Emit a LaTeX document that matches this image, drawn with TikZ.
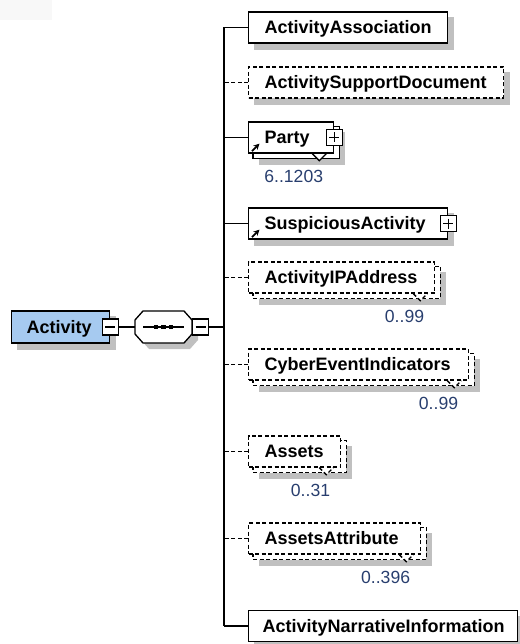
\documentclass[tikz,border=0pt]{standalone}
\usepackage{fontspec}
\setmainfont{Liberation Sans}
\usetikzlibrary{calc,arrows.meta}
\pgfdeclarelayer{shadowl}
\pgfdeclarelayer{backl}
\pgfsetlayers{shadowl,backl,main}
\definecolor{shadowgray}{RGB}{192,192,192}
\definecolor{rootblue}{RGB}{166,202,240}
\definecolor{occblue}{RGB}{40,62,110}
\definecolor{faint}{RGB}{248,248,248}
\newcommand\elemfont{\fontsize{18pt}{21pt}\selectfont\bfseries}
\newcommand\occfont{\fontsize{17.6pt}{21pt}\selectfont}
\newcommand\dropshadow[2]{%
  \begin{pgfonlayer}{shadowl}
  \fill[shadowgray] ($(#1.north west)+(#2,#2)$) rectangle ($(#1.south east)+(#2,#2)$);
  \end{pgfonlayer}}
\newcommand\stackcopy[2]{%
  \begin{pgfonlayer}{backl}
  \draw[boxline,#2,fill=white] ($(#1.north west)+(5,5)$) rectangle ($(#1.south east)+(5,5)$);
  \end{pgfonlayer}
  \dropshadow{#1}{11}
  \fill[white] ($(#1.south east)+(-22,0.8)$) -- ($(#1.south east)+(-15,7)$) -- ($(#1.south east)+(-8,0.8)$) -- cycle;
  \draw[boxline,#2] ($(#1.south east)+(-22,0)$) -- ($(#1.south east)+(-15,7)$) -- ($(#1.south east)+(-8,0)$);}
\newcommand\minussign[1]{\draw[line width=1.2pt] ($(#1.center)+(-5,0)$) -- ($(#1.center)+(5,0)$);}
\newcommand\plussign[1]{\minussign{#1}\draw[line width=1.2pt] ($(#1.center)+(0,-5)$) -- ($(#1.center)+(0,5)$);}
\newcommand\refarrow[1]{\draw[icon] ($(#1.south west)+(4,-2.5)$) -- ($(#1.south west)+(11.5,-10)$);}
\begin{document}
\begin{tikzpicture}[x=1pt,y=-1pt,
  boxline/.style={line width=1.3pt},
  conn/.style={line width=1.3pt},
  dashline/.style={dash pattern=on 4pt off 2.5pt},
  elem/.style={draw, fill=white, boxline, anchor=west, minimum height=31pt, inner xsep=12pt, inner ysep=0pt, text height=12.5pt, text depth=0pt, align=left, font=\elemfont},
  root/.style={elem, fill=rootblue, minimum height=32pt},
  pm/.style={draw, fill=white, line width=1.2pt, minimum size=16pt, inner sep=0pt},
  occ/.style={anchor=east, inner sep=0pt, text height=12.5pt, text depth=0pt, font=\occfont, text=occblue},
  icon/.style={line width=1.8pt, -{Stealth[length=6pt,width=6pt]}}
]
\useasboundingbox (0,0) rectangle (519,644);
\fill[faint] (0,0) rectangle (52,20);

% root element
\node[root, text width=74pt] (act) at (11,327) {\hspace{3pt}Activity};
\dropshadow{act}{6}
\node[pm] (actminus) at (act.east) {};
\minussign{actminus}

% sequence compositor
\node[inner sep=0pt, minimum width=57pt, minimum height=32pt] (seq) at (163.5,327) {};
\begin{pgfonlayer}{shadowl}
\fill[shadowgray, shift={(6,6)}] (135,320) -- (143,311) -- (184,311) -- (192,320) -- (192,334) -- (184,343) -- (143,343) -- (135,334) -- cycle;
\end{pgfonlayer}
\draw[boxline, fill=white] (135,320) -- (143,311) -- (184,311) -- (192,320) -- (192,334) -- (184,343) -- (143,343) -- (135,334) -- cycle;
\draw[line width=1.2pt] ($(seq.center)+(-20.5,0)$) -- ($(seq.center)+(20.5,0)$);
\foreach \dx in {-7.5,0,7.5}{\fill ($(seq.center)+(\dx,0)+(-2.4,-2.4)$) rectangle ($(seq.center)+(\dx,0)+(2.4,2.4)$);}
\node[pm] (seqminus) at (200.5,327) {};
\minussign{seqminus}

\draw[conn] (actminus.east) -- (seq.west);

% children
\node[elem, text width=175pt] (aa) at (248,27.5) {\hspace{4pt}ActivityAssociation};
\dropshadow{aa}{6}

\node[elem, dashline, text width=231pt] (asd) at (248,82.5) {\hspace{4pt}ActivitySupportDocument};
\dropshadow{asd}{6}

\node[elem, text width=61pt] (party) at (248,137.5) {\hspace{4pt}Party};
\stackcopy{party}{solid}
\node[pm] (partyplus) at (party.east) {};
\plussign{partyplus}
\refarrow{party}
\node[occ] (partyocc) at ($(party.south east)+(-11,23)$) {6..1203};

\node[elem, text width=175pt] (sa) at (248,223.5) {\hspace{4pt}SuspiciousActivity};
\dropshadow{sa}{6}
\node[pm] (saplus) at (sa.east) {};
\plussign{saplus}
\refarrow{sa}

\node[elem, dashline, text width=162pt] (aip) at (248,277.5) {\hspace{4pt}ActivityIPAddress};
\stackcopy{aip}{dashline}
\node[occ] (aipocc) at ($(aip.south east)+(-11,23)$) {0..99};

\node[elem, dashline, text width=196pt] (cei) at (248,364.5) {\hspace{4pt}CyberEventIndicators};
\stackcopy{cei}{dashline}
\node[occ] (ceiocc) at ($(cei.south east)+(-11,23)$) {0..99};

\node[elem, dashline, text width=68pt] (assets) at (248,451.5) {\hspace{4pt}Assets};
\stackcopy{assets}{dashline}
\node[occ] (assetsocc) at ($(assets.south east)+(-11,23)$) {0..31};

\node[elem, dashline, text width=148pt] (asat) at (248,538.5) {\hspace{4pt}AssetsAttribute};
\stackcopy{asat}{dashline}
\node[occ] (asatocc) at ($(asat.south east)+(-11,23)$) {0..396};

\node[elem, text width=245pt] (ani) at (248,626) {\hspace{2pt}ActivityNarrativeInformation};
\dropshadow{ani}{6}

% connectors
\coordinate (bartop) at (224,27.5);
\coordinate (barbot) at (224,626);
\draw[conn] (bartop) -- (barbot);
\draw[conn] (seqminus.east) -- (seqminus.east -| bartop);
\draw[conn] (aa.west) -- (aa.west -| bartop);
\draw[conn, dashline] (asd.west) -- (asd.west -| bartop);
\draw[conn] (party.west) -- (party.west -| bartop);
\draw[conn] (sa.west) -- (sa.west -| bartop);
\draw[conn, dashline] (aip.west) -- (aip.west -| bartop);
\draw[conn, dashline] (cei.west) -- (cei.west -| bartop);
\draw[conn, dashline] (assets.west) -- (assets.west -| bartop);
\draw[conn, dashline] (asat.west) -- (asat.west -| bartop);
\draw[conn] (ani.west) -- (ani.west -| bartop);
\end{tikzpicture}
\end{document}
